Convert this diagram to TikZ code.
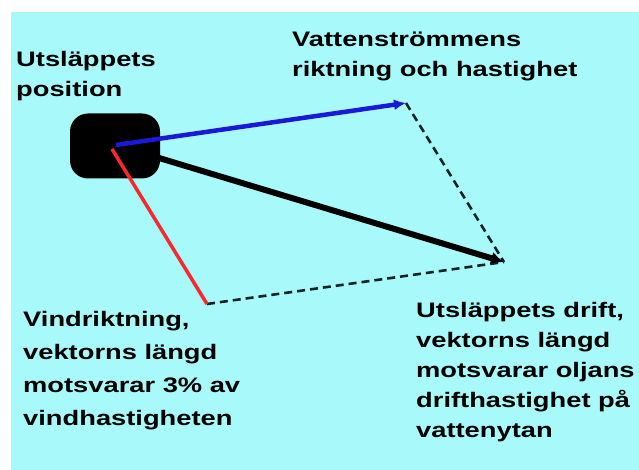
\documentclass[tikz,border=0pt]{standalone}
\usepackage{fontspec}
\setmainfont[FakeStretch=1.3]{Liberation Sans}
\usetikzlibrary{arrows.meta}
\definecolor{sea}{RGB}{168,250,250}
\definecolor{vblue}{RGB}{25,25,215}
\definecolor{vred}{RGB}{250,40,45}
\definecolor{dashc}{RGB}{20,35,35}
\tikzset{
  lbl/.style={anchor=north west, inner sep=0pt, align=left, font=\bfseries\fontsize{21}{30}\selectfont, text=black},
  vec/.style={line cap=butt},
  dashv/.style={draw=dashc, line width=2.6pt, dash pattern=on 8pt off 5pt}
}
\begin{document}
\begin{tikzpicture}[x=1pt,y=-1pt]
\useasboundingbox (0,0) rectangle (639,470);
\fill[white] (0,0) rectangle (639,470);
\fill[sea] (11,12) rectangle (639,470);
% blob
\node[fill=black, rounded corners=18pt, minimum width=90pt, minimum height=65pt, inner sep=0pt] (blob) at (115,146) {};
\coordinate (o) at (116,145);
\coordinate (cur) at (406,103);
\coordinate (drift) at (504,262);
\coordinate (wind) at (207,304);
% dashed completion lines
\draw[dashv] (cur) -- (drift);
\draw[dashv] (wind) -- (drift);
% vectors
\draw[vec, draw=black, line width=6pt, -{Latex[length=13pt,width=13pt]}] (o) -- (drift);
\draw[vec, draw=vblue, line width=4.5pt, -{Latex[length=12pt,width=11pt]}] (o) -- (cur);
\draw[vec, draw=vred, line width=3.5pt] (112,149) -- (wind);
% labels
\node[lbl] (pos) at (16,51) {Utsläppets\\position};
\node[lbl] (curlbl) at (292,32) {Vattenströmmens\\riktning och hastighet};
\node[lbl, font=\bfseries\fontsize{21}{33}\selectfont] (windlbl) at (23,311) {Vindriktning,\\vektorns längd\\motsvarar 3\% av\\vindhastigheten};
\node[lbl] (driftlbl) at (416,302) {Utsläppets drift,\\vektorns längd\\motsvarar oljans\\drifthastighet på\\vattenytan};
\end{tikzpicture}
\end{document}
